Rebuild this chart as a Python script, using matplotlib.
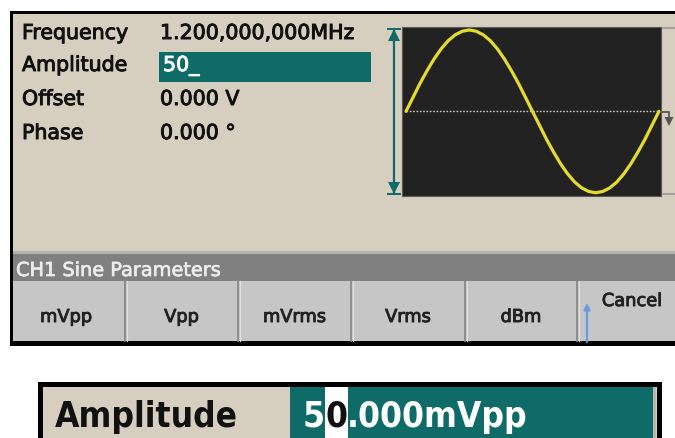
import matplotlib
matplotlib.use("Agg")
import matplotlib.pyplot as plt
import matplotlib.patches as mpatches
import matplotlib.patheffects as pe
from matplotlib import font_manager as fm

# ---------------- data ----------------
param_labels = ["Frequency", "Amplitude", "Offset", "Phase"]
param_values = ["1.200,000,000MHz", "50_", "0.000 V", "0.000 \u00b0"]
status_text = "CH1 Sine Parameters"
softkeys = ["mVpp", "Vpp", "mVrms", "Vrms", "dBm", "Cancel"]
zoom_label = "Amplitude"
zoom_value_parts = ["5", "0", ".000mVpp"]

# waveform preview (one period): phase in degrees, level in mV
wave_phase_deg = [0, 10, 20, 30, 40, 50, 60, 70, 80, 90, 100, 110, 120, 130, 140, 150,
                  160, 170, 180, 190, 200, 210, 220, 230, 240, 250, 260, 270, 280,
                  290, 300, 310, 320, 330, 340, 350, 360]
wave_mV = [0, 4.3, 8.6, 12.5, 16.1, 19.2, 21.7, 23.5, 24.6, 25, 24.6, 23.5, 21.7,
           19.2, 16.1, 12.5, 8.6, 4.3, 0, -4.3, -8.6, -12.5, -16.1, -19.2, -21.7,
           -23.5, -24.6, -25, -24.6, -23.5, -21.7, -19.2, -16.1, -12.5, -8.6, -4.3, 0]

# ---------------- style ----------------
W, H = 675, 439
BEIGE = "#d6cfc0"
TEAL = "#0e6b68"
SCREEN = "#222222"
YELLOW = "#e4dc2c"
BAR = "#808080"
KEY = "#c6c6c6"
TXT = "#111111"
F_MAIN = ["DejaVu Sans"]

# pick a narrow font for the enlarged field if one is installed
names = {(f.name, f.stretch) for f in fm.fontManager.ttflist}
if any(n == "Liberation Sans Narrow" for n, s in names):
    BIG = dict(family=["Liberation Sans Narrow"], weight="bold")
elif any(n == "DejaVu Sans" and s in ("condensed", "semi-condensed", 87.5)
         or str(s) in ("condensed", "semi-condensed") and n == "DejaVu Sans" for n, s in names):
    BIG = dict(family=["DejaVu Sans"], weight="bold", stretch="condensed")
elif any(n == "Roboto" for n, s in names):
    BIG = dict(family=["Roboto"], weight="medium")
else:
    BIG = dict(family=["DejaVu Sans"], weight="normal")

fig = plt.figure(figsize=(W / 100, H / 100), dpi=100)
fig.patch.set_facecolor("white")
ax = fig.add_axes([0, 0, 1, 1])
ax.set_xlim(0, W)
ax.set_ylim(H, 0)
ax.axis("off")
renderer = fig.canvas.get_renderer()


def rect(x0, y0, x1, y1, color, z=1, **kw):
    ax.add_patch(mpatches.Rectangle((x0, y0), x1 - x0, y1 - y0, facecolor=color,
                                    edgecolor="none", zorder=z, **kw))


def bold(color, lw=0.7):
    return [pe.withStroke(linewidth=lw, foreground=color)]


def width_px(t):
    return t.get_window_extent(renderer).width


# ---- upper panel ----
rect(10, 12, W, 347, "black", z=1)
rect(13, 15, W, 252, BEIGE, z=2)
rect(13, 252, W, 254.5, "#b4b2ac", z=2)
rect(13, 254.5, W, 282, BAR, z=2)
rect(13, 282, W, 342, KEY, z=2)

# parameter rows
row_base = [40, 72, 106, 140]
rect(159, 53, 371, 83, TEAL, z=3)
for lab, val, yb in zip(param_labels, param_values, row_base):
    ax.text(22, yb, lab, fontsize=14.8, family=F_MAIN, color=TXT, va="baseline",
            ha="left", zorder=5, path_effects=bold(TXT))
    c = "white" if lab == "Amplitude" else TXT
    xv = 163 if lab == "Amplitude" else 160
    ax.text(xv, yb, val, fontsize=14.8, family=F_MAIN, color=c, va="baseline",
            ha="left", zorder=5, path_effects=bold(c))

# status bar
ax.text(16, 277, status_text, fontsize=13.9, family=F_MAIN, color="#ececec",
        va="baseline", ha="left", zorder=5, path_effects=bold("#ececec", 0.5))

# softkeys
dividers = [125, 238, 351, 465, 577]
edges = [13] + dividers + [W + 20]
for d in dividers:
    ax.plot([d, d], [282, 342], color="#8a8a8a", lw=1.3, zorder=3)
    ax.plot([d + 1.5, d + 1.5], [282, 342], color="#e2e2e2", lw=0.8, zorder=3)
for i, k in enumerate(softkeys):
    if k == "Cancel":
        ax.text(632, 307, k, fontsize=12.8, family=F_MAIN, color="#222222",
                va="baseline", ha="center", zorder=5, path_effects=bold("#222222"))
    else:
        cx = (edges[i] + edges[i + 1]) / 2 + (-3 if i == 0 else 0)
        ax.text(cx, 323, k, fontsize=12.8, family=F_MAIN, color="#222222",
                va="baseline", ha="center", zorder=5, path_effects=bold("#222222"))
# shift arrow under Cancel
ax.annotate("", xy=(587, 304), xytext=(587, 343),
            arrowprops=dict(arrowstyle="-|>", color="#6a9be0", lw=1.6,
                            mutation_scale=9, shrinkA=0, shrinkB=0), zorder=6)

# amplitude span marker (teal double arrow)
ax.plot([394, 394], [31, 194], color=TEAL, lw=1.6, zorder=4)
ax.plot([388, 400], [30, 30], color=TEAL, lw=1.4, zorder=4)
ax.plot([388, 400], [195, 195], color=TEAL, lw=1.4, zorder=4)
ax.add_patch(mpatches.Polygon([(388, 42), (400, 42), (394, 30)], closed=True,
                              facecolor=TEAL, edgecolor="none", zorder=4))
ax.add_patch(mpatches.Polygon([(388, 183), (400, 183), (394, 195)], closed=True,
                              facecolor=TEAL, edgecolor="none", zorder=4))

# right-side markers
ax.plot([663, W], [29, 29], color="#9a9a9a", lw=1.2, zorder=4)
ax.plot([663, W], [195, 195], color="#9a9a9a", lw=1.2, zorder=4)
ax.plot([661, 669, 669], [113, 113, 119], color="#555555", lw=1.3, zorder=4)
ax.add_patch(mpatches.Polygon([(664.5, 118), (673.5, 118), (669, 127)], closed=True,
                              facecolor="#555555", edgecolor="none", zorder=4))

# ---- waveform screen ----
sx0, sx1, sy0, sy1 = 401.7, 661.0, 27.7, 196.7
wax = fig.add_axes([sx0 / W, 1 - sy1 / H, (sx1 - sx0) / W, (sy1 - sy0) / H])
wax.set_facecolor(SCREEN)
for s in wax.spines.values():
    s.set_color("#5a5a5a")
    s.set_linewidth(0.8)
wax.set_xticks([])
wax.set_yticks([])
wax.set_xlim(-0.017 * 360, 1.008 * 360)
wax.set_ylim(-25.9, 26.0)
wax.plot([0, 358], [0, 0], color="#c8c8c8", lw=1.0, ls=(0, (1.2, 1.2)), zorder=2)
wax.plot(wave_phase_deg, wave_mV, color=YELLOW, lw=2.3, solid_capstyle="round", zorder=3)

# ---- zoomed amplitude field ----
rect(38, 383, 662, H + 5, "black", z=1)
rect(43, 388, 657, H + 5, BEIGE, z=2)
rect(290, 388, 656, H + 5, "#b8b6ae", z=2)
rect(290, 388, 653, H + 5, TEAL, z=3)

big_size = 30.0
t_lab = ax.text(55, 427, zoom_label, fontsize=big_size, color=TXT, va="baseline",
                ha="left", zorder=5, **BIG)
w0 = width_px(t_lab)
big_size = big_size * 183.0 / w0
t_lab.set_fontsize(big_size)

x = 303.0
t5 = ax.text(x, 427, zoom_value_parts[0], fontsize=big_size, color="white",
             va="baseline", ha="left", zorder=5, **BIG)
x += width_px(t5)
t0 = ax.text(x, 427, zoom_value_parts[1], fontsize=big_size, color=TXT,
             va="baseline", ha="left", zorder=5, **BIG)
w_0 = width_px(t0)
rect(x - 0.5, 388, x + w_0 + 0.5, H + 5, "white", z=4)
x += w_0
ax.text(x, 427, zoom_value_parts[2], fontsize=big_size, color="white",
        va="baseline", ha="left", zorder=5, **BIG)

fig.savefig("out.png", dpi=100, facecolor="white")
